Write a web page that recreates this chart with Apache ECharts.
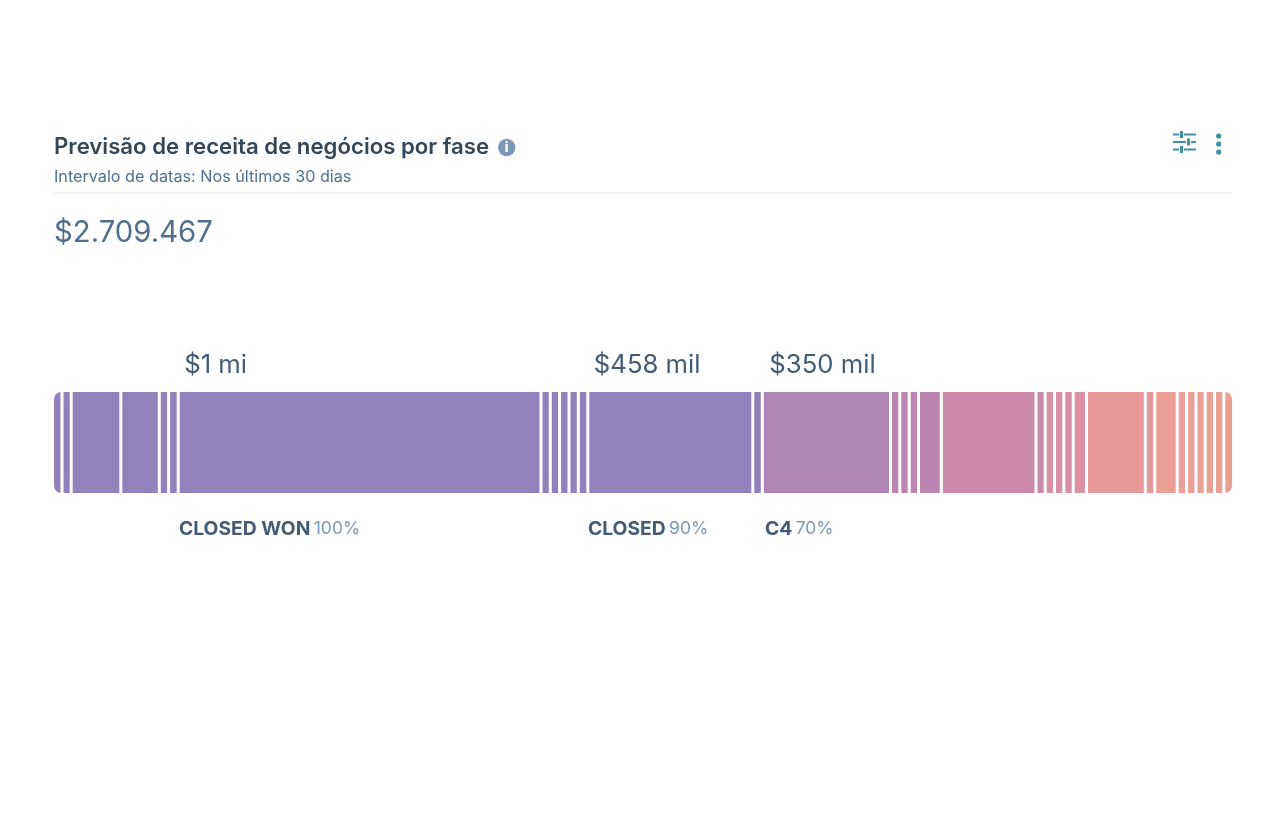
<!DOCTYPE html>
<html>
<head>
<meta charset="utf-8">
<style>
  html, body { margin: 0; padding: 0; background: #fff; }
  #chart { width: 1280px; height: 813px; }
</style>
<script src="https://cdn.jsdelivr.net/npm/echarts@6/dist/echarts.min.js"></script>
</head>
<body>
<div id="chart"></div>
<script>
// deal values, left to right (dollars, estimated)
const dealValues = [
  21850, 21160, 114100, 88550, 21400, 22080, 834460, 21400, 21400, 21620, 21400, 21850,
  379500, 21850, 294860, 21400, 21620, 21400, 52440, 217810, 21160, 21400, 21400, 21620,
  30590, 135240, 21850, 51520, 21620, 21620, 21160, 21400, 21400, 22310
];
const dealColors = [
  '#9282bc', '#9282bc', '#9282bc', '#9282bc', '#9282bc', '#9282bc', '#9282bc', '#9282bc', '#9282bc', '#9282bc', '#9282bc', '#9282bc',
  '#9282bc', '#9282bc', '#b084b5', '#bb84b1', '#bb84b1', '#bb84b1', '#bc84b1', '#cb88ac', '#c98bab', '#d88fa6', '#d88fa6', '#d98fa5',
  '#db90a3', '#e89899', '#e49b9b', '#ea9e94', '#eaa097', '#eaa097', '#eba095', '#eba095', '#eba095', '#eca094'
];
const totalLabel = '$2.709.467';
const titleText = 'Previsão de receita de negócios por fase';
const subtitleText = 'Intervalo de datas: Nos últimos 30 dias';

// segment index -> label above / caption below
const phaseIndex = [6, 12, 14];
const phaseAmounts = ['$1 mi', '$458 mil', '$350 mil'];
const phaseNames = ['CLOSED WON', 'CLOSED', 'C4'];
const phasePercents = ['100%', '90%', '70%'];

const FONT = 'Inter, "Noto Sans", sans-serif';
const chart = echarts.init(document.getElementById('chart'));

const axisMax = dealValues.reduce(function (a, b) { return a + b; }, 0);

const series = dealValues.map(function (v, i) {
  const p = phaseIndex.indexOf(i);
  let radius = 0;
  if (i === 0) radius = [8, 0, 0, 8];
  if (i === dealValues.length - 1) radius = [0, 8, 8, 0];
  return {
    type: 'bar',
    stack: 'deals',
    barWidth: 104,
    silent: true,
    data: [v],
    // echarts insets the rect by half the border, so 1.5 gives a 3px gap
    itemStyle: { color: dealColors[i], borderColor: '#fff', borderWidth: 1.5, borderRadius: radius },
    label: {
      show: p >= 0,
      position: [p === 2 ? 7 : 6, -38],
      formatter: p >= 0 ? phaseAmounts[p] : '',
      color: '#425b76',
      fontFamily: FONT,
      fontSize: 25.7
    }
  };
});

// captions under the bar
const captionX = [179, 588, 765];
const captions = phaseNames.map(function (name, i) {
  return {
    type: 'text',
    x: captionX[i],
    y: 529,
    style: {
      text: '{b|' + name + '} {p|' + phasePercents[i] + '}',
      verticalAlign: 'middle',
      rich: {
        b: { fontFamily: FONT, fontSize: 19.3, fontWeight: 700, fill: '#425b76' },
        p: { fontFamily: FONT, fontSize: 17.5, fill: '#7c98b6' }
      }
    }
  };
});

function sliderRow(y, a, b, c, d) {
  const col = '#3f8fa6';
  return [
    { type: 'line', shape: { x1: a, y1: y, x2: b, y2: y }, style: { stroke: col, lineWidth: 2 } },
    { type: 'line', shape: { x1: c, y1: y, x2: d, y2: y }, style: { stroke: col, lineWidth: 2 } },
    { type: 'rect', shape: { x: b + 1, y: y - 3.5, width: 3, height: 7 }, style: { fill: col } }
  ];
}

const icons = [].concat(
  sliderRow(134.5, 1173, 1179, 1184, 1196),
  sliderRow(142, 1173, 1186, 1191, 1196),
  sliderRow(149.5, 1173, 1179, 1184, 1196),
  [
    { type: 'circle', shape: { cx: 1218.7, cy: 136, r: 2.6 }, style: { fill: '#3f8fa6' } },
    { type: 'circle', shape: { cx: 1218.7, cy: 144, r: 2.6 }, style: { fill: '#3f8fa6' } },
    { type: 'circle', shape: { cx: 1218.7, cy: 152, r: 2.6 }, style: { fill: '#3f8fa6' } },
    { type: 'circle', shape: { cx: 506.7, cy: 147.5, r: 8.7 }, style: { fill: '#7c98b6' } },
    { type: 'text', x: 506.7, y: 148, style: { text: 'i', fontFamily: FONT, fontSize: 13, fontWeight: 800, fill: '#fff', align: 'center', verticalAlign: 'middle' } }
  ]
);

chart.setOption({
  animation: false,
  backgroundColor: '#fff',
  grid: { left: 52.5, top: 390.5, width: 1181, height: 104 },
  xAxis: { type: 'value', min: 0, max: axisMax, show: false },
  yAxis: { type: 'category', data: ['fase'], show: false },
  series: series,
  graphic: [
    { type: 'text', x: 54, y: 147, style: { text: titleText, fontFamily: FONT, fontSize: 22.2, fontWeight: 600, fill: '#33475b', verticalAlign: 'middle' } },
    { type: 'text', x: 54, y: 177.5, style: { text: subtitleText, fontFamily: FONT, fontSize: 16.2, fill: '#516f90', verticalAlign: 'middle' } },
    { type: 'line', shape: { x1: 54, y1: 193, x2: 1232, y2: 193 }, style: { stroke: '#e3e7ec', lineWidth: 1 } },
    { type: 'text', x: 54, y: 233, style: { text: totalLabel, fontFamily: FONT, fontSize: 29.3, fill: '#516f90', verticalAlign: 'middle' } }
  ].concat(captions, icons)
});
</script>
</body>
</html>
